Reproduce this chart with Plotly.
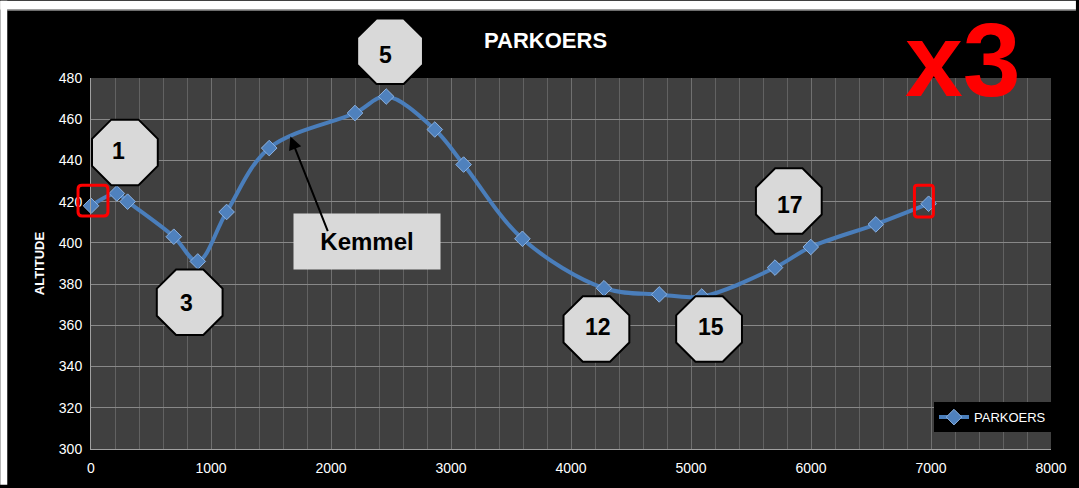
import plotly.graph_objects as go

# ---- data ----
distance = [0, 215, 305, 690, 890, 1130, 1485, 2200, 2460, 2865, 3105, 3595,
            4275, 4735, 5090, 5700, 5998, 6540, 6980]
altitude = [418, 424, 420, 403, 391, 415, 446, 463, 471, 455, 438, 402,
            378, 375, 374, 388, 398, 409, 419]
series_name = "PARKOERS"
x_ticks = [0, 1000, 2000, 3000, 4000, 5000, 6000, 7000, 8000]
y_ticks = [300, 320, 340, 360, 380, 400, 420, 440, 460, 480]

# octagon call-outs (label, centre px x, centre px y, text px x, text px y)
oct_labels = ["1", "3", "5", "12", "15", "17"]
oct_cx = [125, 190, 391, 598, 711, 791]
oct_cy = [153, 304, 51, 331, 331, 202]
oct_tx = [119, 187, 386, 600, 713, 792]
oct_ty = [152, 305, 55, 329, 329, 206]

W, H = 1079, 488
L, R, T, B = 91, 25, 78, 36
PW, PH = W - L - R, H - T - B


def px(x):
    return (x - L) / PW


def py(y):
    return (H - B - y) / PH


fig = go.Figure()
fig.add_trace(go.Scatter(
    x=distance, y=altitude, name=series_name, mode="lines+markers",
    line=dict(color="#4a7ebb", width=4, shape="spline", smoothing=1.0),
    marker=dict(symbol="diamond", size=12, color="#4f81bd",
                line=dict(color="#8db3e2", width=1)),
    showlegend=True, cliponaxis=False,
))

shapes = []
# white strips at top/left of the image
shapes.append(dict(type="rect", xref="paper", yref="paper", x0=px(0), x1=px(W),
                   y0=py(9), y1=py(0), fillcolor="white", line=dict(width=0), layer="above"))
shapes.append(dict(type="rect", xref="paper", yref="paper", x0=px(0), x1=px(7),
                   y0=py(H), y1=py(0), fillcolor="white", line=dict(width=0), layer="above"))
shapes.append(dict(type="line", xref="paper", yref="paper", x0=px(7), x1=px(W),
                   y0=py(9.5), y1=py(9.5), line=dict(color="#c8c8c8", width=1), layer="above"))

# octagons
a = 33.0
s2 = a / (1 + 2 ** 0.5)
for cx, cy in zip(oct_cx, oct_cy):
    pts = [(-s2, -a), (s2, -a), (a, -s2), (a, s2), (s2, a), (-s2, a), (-a, s2), (-a, -s2)]
    path = "M " + " L ".join(f"{px(cx + dx):.5f},{py(cy + dy):.5f}" for dx, dy in pts) + " Z"
    shapes.append(dict(type="path", xref="paper", yref="paper", path=path,
                       fillcolor="#d9d9d9", line=dict(color="black", width=2), layer="above"))


# red rounded boxes
def rounded(x0, y0, x1, y1, r):
    p = [
        f"M {px(x0 + r):.5f},{py(y0):.5f}",
        f"L {px(x1 - r):.5f},{py(y0):.5f}",
        f"Q {px(x1):.5f},{py(y0):.5f} {px(x1):.5f},{py(y0 + r):.5f}",
        f"L {px(x1):.5f},{py(y1 - r):.5f}",
        f"Q {px(x1):.5f},{py(y1):.5f} {px(x1 - r):.5f},{py(y1):.5f}",
        f"L {px(x0 + r):.5f},{py(y1):.5f}",
        f"Q {px(x0):.5f},{py(y1):.5f} {px(x0):.5f},{py(y1 - r):.5f}",
        f"L {px(x0):.5f},{py(y0 + r):.5f}",
        f"Q {px(x0):.5f},{py(y0):.5f} {px(x0 + r):.5f},{py(y0):.5f} Z",
    ]
    return " ".join(p)


shapes.append(dict(type="path", xref="paper", yref="paper", path=rounded(78, 186, 108, 217, 4),
                   line=dict(color="#ff0000", width=3), layer="above"))
shapes.append(dict(type="path", xref="paper", yref="paper", path=rounded(917, 186, 936, 218, 3),
                   line=dict(color="#ff0000", width=3), layer="above"))

annotations = []
for lab, tx, ty in zip(oct_labels, oct_tx, oct_ty):
    annotations.append(dict(xref="paper", yref="paper", x=px(tx), y=py(ty), text=f"<b>{lab}</b>",
                            showarrow=False, font=dict(family="Liberation Sans", size=23, color="black"),
                            xanchor="center", yanchor="middle"))

# Kemmel box + arrow
annotations.append(dict(xref="paper", yref="paper", x=px(368), y=py(243), text="<b>Kemmel</b>",
                        showarrow=False, bgcolor="#d9d9d9", width=144, height=53,
                        font=dict(family="Liberation Sans", size=24, color="black"),
                        xanchor="center", yanchor="middle", align="center"))
annotations.append(dict(xref="paper", yref="paper", x=px(291), y=py(137), text="",
                        showarrow=True, arrowhead=2, arrowsize=1.3, arrowwidth=2, arrowcolor="black",
                        ax=38, ay=96))

# x3
annotations.append(dict(xref="paper", yref="paper", x=px(966), y=py(0), text="<b>x3</b>",
                        showarrow=False, font=dict(family="Liberation Sans", size=104, color="#ff0000"),
                        borderpad=0, xanchor="center", yanchor="top"))

# title
annotations.append(dict(xref="paper", yref="paper", x=px(547), y=py(40), text="<b>PARKOERS</b>",
                        showarrow=False, font=dict(family="Liberation Sans", size=22, color="white"),
                        xanchor="center", yanchor="middle"))

fig.update_layout(
    width=W, height=H,
    margin=dict(l=L, r=R, t=T, b=B, pad=0),
    paper_bgcolor="black", plot_bgcolor="#404040",
    font=dict(family="Liberation Sans", color="white", size=13),
    shapes=shapes, annotations=annotations,
    legend=dict(x=1.0, xanchor="right", y=py(435), yanchor="bottom", bgcolor="black",
                font=dict(size=13, color="white"), borderwidth=0,
                itemwidth=30, tracegroupgap=0),
    xaxis=dict(range=[0, 8000], tickvals=x_ticks, showgrid=True, gridcolor="#707070", gridwidth=1,
               minor=dict(dtick=200, showgrid=True, gridcolor="#626262", gridwidth=1),
               showline=True, linecolor="#a0a0a0", linewidth=1, zeroline=False,
               ticks="", tickfont=dict(size=14, color="white"), ticklabelstandoff=6),
    yaxis=dict(range=[300, 480], tickvals=y_ticks, showgrid=True, gridcolor="#888888", gridwidth=1,
               showline=True, linecolor="#a0a0a0", linewidth=1, zeroline=False,
               ticks="", tickfont=dict(size=14, color="white"), ticklabelstandoff=5,
               title=dict(text="<b>ALTITUDE</b>", font=dict(size=13, color="white"), standoff=11)),
)

fig.write_html("out.html")
